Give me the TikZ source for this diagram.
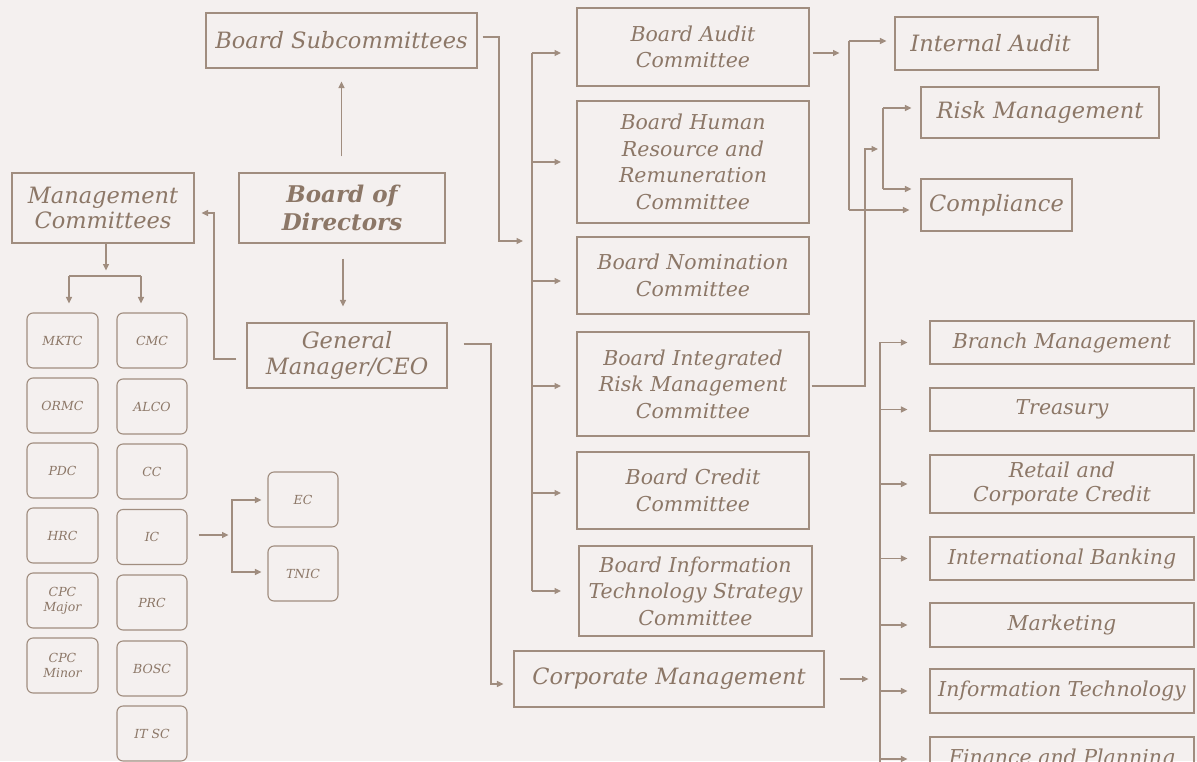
\documentclass[tikz,border=0pt]{standalone}
\usepackage{fontspec}
\setmainfont{DejaVu Serif}
\usetikzlibrary{arrows.meta,calc}
\definecolor{bg}{HTML}{F4F0EF}
\definecolor{lc}{HTML}{A08D7F}
\definecolor{tc}{HTML}{8C7767}
\begin{document}
\begin{tikzpicture}[x=1pt,y=-1pt,
 box/.style={draw=lc,line width=1.1pt,inner sep=0pt,align=center,text=tc},
 lg/.style={box,font=\fontsize{22.5}{25.5}\selectfont\itshape},
 md/.style={box,font=\fontsize{20.5}{26.5}\selectfont\itshape},
 rt/.style={md,minimum width=264},
 sm/.style={box,rounded corners=6pt,minimum height=55,font=\fontsize{12.5}{15.5}\selectfont\itshape},
 ln/.style={draw=lc,line width=1.1pt},
 arr/.style={ln,-{Triangle[length=6.5pt,width=6pt]}}]
\useasboundingbox (0,0) rectangle (1197,761);
\clip (0,0) rectangle (1197,761);
\fill[bg] (0,0) rectangle (1197,761);

% top level
\node[lg,minimum width=271,minimum height=55] (bs) at (341.5,40.5) {Board Subcommittees};
\node[box,font=\fontsize{23}{27.5}\selectfont\bfseries\itshape,minimum width=206,minimum height=70] (bod) at (342,208) {Board of\\Directors};
\node[lg,minimum width=182,minimum height=70] (mc) at (103,208) {Management\\Committees};
\node[lg,minimum width=200,minimum height=65] (gm) at (347,355.5) {General\\Manager/CEO};

% management committees
\foreach \n/\t/\y in {mktc/MKTC/340.5, ormc/ORMC/405.5, pdc/PDC/470.5, hrc/HRC/535.5, cpcj/{CPC\\Major}/600.5, cpcn/{CPC\\Minor}/665.5}
  \node[sm,minimum width=71] (\n) at (62.5,\y) {\t};
\foreach \n/\t/\y in {cmc/CMC/340.5, alco/ALCO/406.5, cc/CC/471.5, ic/IC/537, prc/PRC/602.5, bosc/BOSC/668.5, itsc/{IT SC}/733.5}
  \node[sm,minimum width=70] (\n) at (152,\y) {\t};
\node[sm,minimum width=70] (ec) at (303,499.5) {EC};
\node[sm,minimum width=70] (tnic) at (303,573.5) {TNIC};

% board committees
\node[md,minimum width=232,minimum height=78] (bac) at (693,47) {Board Audit\\Committee};
\node[md,minimum width=232,minimum height=122] (bhr) at (693,162) {Board Human\\Resource and\\Remuneration\\Committee};
\node[md,minimum width=232,minimum height=77] (bnc) at (693,275.5) {Board Nomination\\Committee};
\node[md,minimum width=232,minimum height=104] (birm) at (693,384) {Board Integrated\\Risk Management\\Committee};
\node[md,minimum width=232,minimum height=77] (bcc) at (693,490.5) {Board Credit\\Committee};
\node[md,minimum width=233,minimum height=90] (bits) at (695.5,591) {Board Information\\Technology Strategy\\Committee};
\node[lg,minimum width=310,minimum height=56] (cm) at (669,679) {Corporate Management};

% control functions
\node[lg,minimum width=203,minimum height=53] (ia) at (996.5,43.5) {Internal Audit\hspace*{12pt}};
\node[lg,minimum width=238,minimum height=51] (rm) at (1040,112.5) {Risk Management};
\node[lg,minimum width=151,minimum height=52] (comp) at (996.5,205) {Compliance};

% corporate management units
\node[rt,minimum height=43] (brm) at (1062,342.5) {Branch Management};
\node[rt,minimum height=43] (trs) at (1062,409.5) {Treasury};
\node[rt,minimum height=58,font=\fontsize{20.5}{23.5}\selectfont\itshape] (rcc) at (1062,484) {Retail and\\Corporate Credit};
\node[rt,minimum height=43] (ib) at (1062,558.5) {International Banking};
\node[rt,minimum height=44] (mkt) at (1062,625) {Marketing};
\node[rt,minimum height=44] (it) at (1062,691) {Information Technology};
\node[rt,minimum height=44] (fp) at (1062,759) {Finance and Planning};

% connectors
\draw[arr] ($(bod.north)+(-0.5,-16)$) -- ($(bs.south)+(0,13)$);
\draw[arr] ($(bod.south)+(1,15)$) -- ($(gm.north)+(-4,-16)$);
\coordinate (gmturn) at (214,213);
\draw[arr] ($(gm.west)+(-10,3.5)$) -| (gmturn) -- ($(mc.east)+(7,5)$);
\draw[arr] ($(mc.south)+(3,0)$) -- ++(0,27);
\coordinate (mcl) at (69,276);
\coordinate (mcr) at (141,276);
\draw[ln] (mcl) -- (mcr);
\draw[arr] (mcl) -- ($(mktc.north)+(6.5,-9)$);
\draw[arr] (mcr) -- ($(cmc.north)+(-11,-9)$);

\draw[arr] ($(ic.east)+(11,-2)$) -- ++(30,0);
\coordinate (icb) at (232,535);
\draw[arr] (icb) |- ($(ec.west)+(-6,0.5)$);
\draw[arr] (icb) |- ($(tnic.west)+(-6,-1.5)$);

\coordinate (bsturn) at (499,241);
\draw[arr] ($(bs.east)+(5,-3.5)$) -| (bsturn) -- ++(24,0);
\draw[ln] (532,53) -- (532,591);
\foreach \y in {53,162,281,386,493,591}
  \draw[arr] (532,\y) -- (561,\y);

\coordinate (gmcm) at (491,684);
\draw[arr] ($(gm.east)+(16,-11.5)$) -| (gmcm) -- ($(cm.west)+(-10,5)$);
\draw[arr] ($(cm.east)+(15,0)$) -- ++(29,0);

\draw[ln] (880,343) -- (880,775);
\foreach \n in {brm,trs,rcc,ib,mkt,it,fp}
  \draw[arr] ($(\n.west)+(-50,0)$) -- ($(\n.west)+(-22,0)$);

\draw[arr] ($(bac.east)+(3,6)$) -- ++(27,0);
\coordinate (aut) at (849,41);
\coordinate (aub) at (849,210);
\draw[ln] (aut) -- (aub);
\draw[arr] (aut) -- ($(ia.west)+(-8,-2.5)$);
\draw[arr] (aub) -- ($(comp.west)+(-11,5)$);

\coordinate (rmturn) at (865,149);
\draw[arr] ($(birm.east)+(2,2)$) -| (rmturn) -- ++(13,0);
\coordinate (rkt) at (883,108);
\coordinate (rkb) at (883,189);
\draw[ln] (rkt) -- (rkb);
\draw[arr] (rkt) -- ($(rm.west)+(-9,-4.5)$);
\draw[arr] (rkb) -- ($(comp.west)+(-9,-16)$);
\end{tikzpicture}
\end{document}
